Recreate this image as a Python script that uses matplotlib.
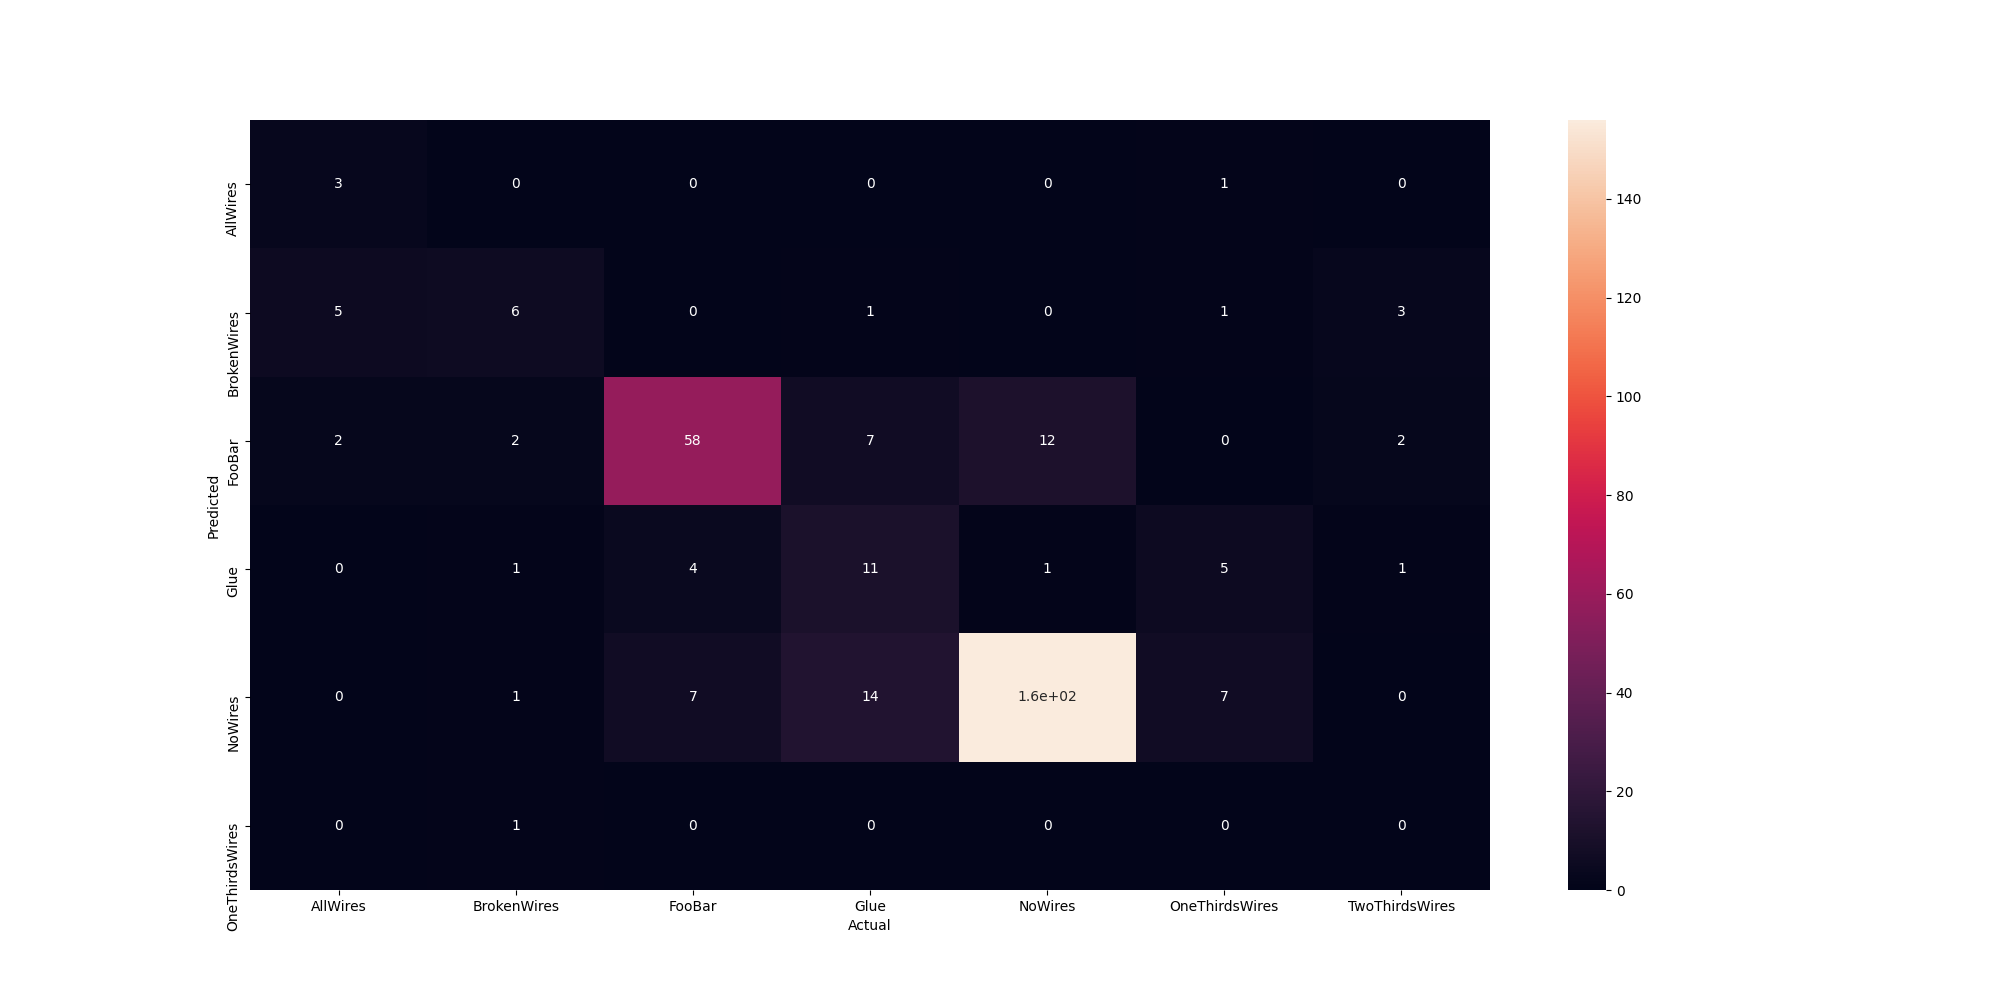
import numpy as np
import pandas as pd
import matplotlib
matplotlib.use("Agg")
import matplotlib.pyplot as plt
import matplotlib.transforms as mtrans
import seaborn as sns

# confusion matrix values
predicted = ["AllWires", "BrokenWires", "FooBar", "Glue", "NoWires", "OneThirdsWires"]
actual = ["AllWires", "BrokenWires", "FooBar", "Glue", "NoWires", "OneThirdsWires", "TwoThirdsWires"]

row_allwires = [3, 0, 0, 0, 0, 1, 0]
row_brokenwires = [5, 6, 0, 1, 0, 1, 3]
row_foobar = [2, 2, 58, 7, 12, 0, 2]
row_glue = [0, 1, 4, 11, 1, 5, 1]
row_nowires = [0, 1, 7, 14, 156, 7, 0]
row_onethirds = [0, 1, 0, 0, 0, 0, 0]

conf = pd.DataFrame(
    [row_allwires, row_brokenwires, row_foobar, row_glue, row_nowires, row_onethirds],
    index=pd.Index(predicted, name="Predicted"),
    columns=pd.Index(actual, name="Actual"),
)

fig = plt.figure(figsize=(20, 10), dpi=100)
ax = sns.heatmap(conf, annot=True)

# y labels hang down from the tick instead of being centred on it
shift = mtrans.ScaledTranslation(0, 0.04, fig.dpi_scale_trans)
for lbl in ax.get_yticklabels():
    lbl.set_rotation(90)
    lbl.set_rotation_mode("anchor")
    lbl.set_va("bottom")
    lbl.set_transform(lbl.get_transform() + shift)

plt.savefig("out.png")
